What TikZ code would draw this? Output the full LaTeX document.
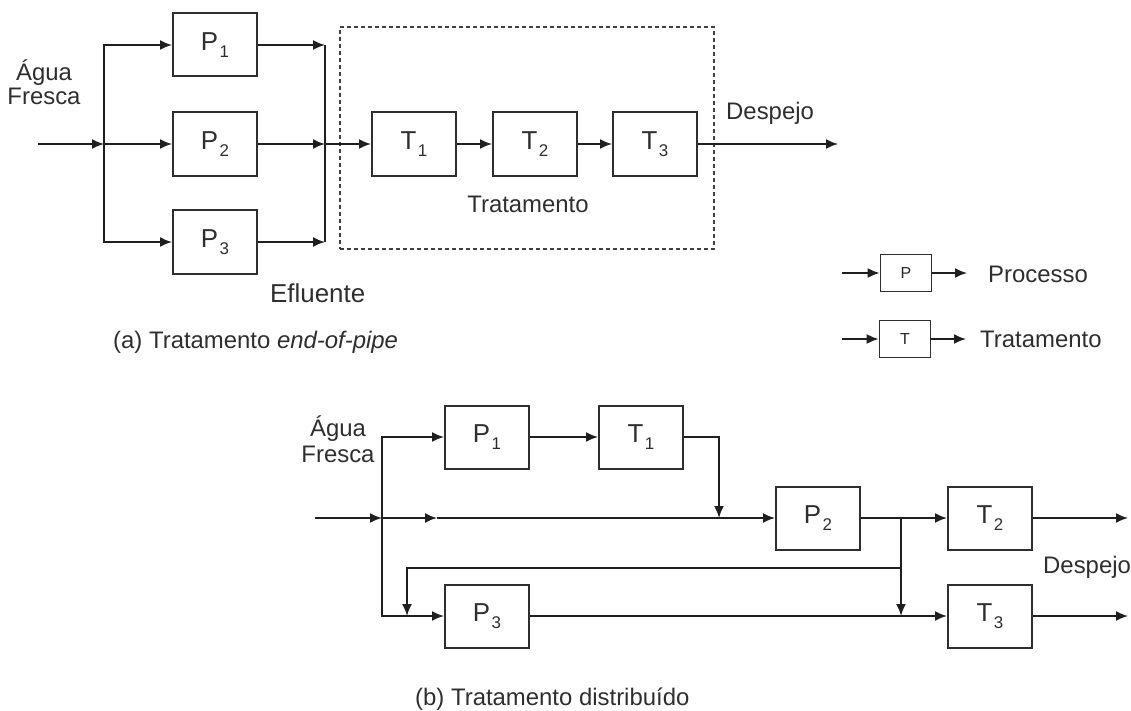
\documentclass[tikz,border=0pt]{standalone}
\usepackage{fontspec}
\setmainfont{Liberation Sans}
\usetikzlibrary{arrows.meta}
\newcommand\lblfont{\fontsize{24}{24.5}\selectfont}
\newcommand\boxlab[2]{#1\kern1.5bp\raisebox{-7bp}{\fontsize{17}{17}\selectfont #2}}
\begin{document}
\begin{tikzpicture}[x=1bp,y=-1bp,
  wire/.style={line width=1.8bp, draw=black!88},
  arr/.style={wire, -{Latex[length=12bp,width=10bp]}},
  unit/.style={draw=black!82, line width=2bp, minimum width=84bp, minimum height=63bp,
    inner sep=0pt, font=\fontsize{26}{26}\selectfont, text=black!82},
  mini/.style={draw=black!82, line width=1.8bp, minimum width=51bp, minimum height=37bp,
    inner sep=0pt, font=\fontsize{16}{16}\selectfont, text=black!85},
  txt/.style={font=\lblfont, text=black!82, inner sep=0pt},
  dashbox/.style={draw=black!75, line width=1.6bp, dash pattern=on 4bp off 3bp,
    minimum width=374bp, minimum height=222bp, inner sep=0pt},
]
\useasboundingbox (0,0) rectangle (1131,711);

% ---------- (a) end-of-pipe treatment ----------
\node[dashbox] (trat) at (527,138) {};
\node[unit] (P1) at (215,45)  {\boxlab{P}{1}};
\node[unit] (P2) at (215,144) {\boxlab{P}{2}};
\node[unit] (P3) at (215,242) {\boxlab{P}{3}};
\node[unit] (T1) at (414,144) {\boxlab{T}{1}};
\node[unit] (T2) at (535,144) {\boxlab{T}{2}};
\node[unit] (T3) at (655,144) {\boxlab{T}{3}};

\coordinate (inA) at (38,144);
\coordinate (jA)  at (104,144);
\coordinate (k1)  at (325,45);
\coordinate (k2)  at (325,144);
\coordinate (k3)  at (325,242);
\coordinate (outA) at (838,144);

\draw[arr] (inA) -- (jA);
\draw[wire] (jA |- P1) -- (jA |- P3);
\draw[arr] (jA) |- (P1.west);
\draw[arr] (jA) -- (P2.west);
\draw[arr] (jA) |- (P3.west);
\draw[arr] (P1.east) -- (k1);
\draw[arr] (P2.east) -- (k2);
\draw[arr] (P3.east) -- (k3);
\draw[wire] (k1) -- (k3);
\draw[arr] (k2) -- (T1.west);
\draw[arr] (T1) -- (T2);
\draw[arr] (T2) -- (T3);
\draw[arr] (T3.east) -- (outA);

\node[txt, align=center, font=\fontsize{24}{25}\selectfont, anchor=base] (aguaA) at (44,105) {Água\\Fresca};
\node[txt, anchor=base west] (despA) at (726,120) {Despejo};
\node[txt, anchor=base] (tratA) at (528,213) {Tratamento};
\node[txt, anchor=base west, font=\fontsize{26}{26}\selectfont] (eflu) at (270,302) {Efluente};
\node[txt, anchor=base west] (capA) at (113,348) {(a) Tratamento \textit{end-of-pipe}};

% ---------- legend ----------
\node[mini] (LP) at (906,273) {P};
\node[mini] (LT) at (905,339) {T};
\coordinate (lp1) at (842,273);
\coordinate (lp2) at (967,273);
\coordinate (lt1) at (842,339);
\coordinate (lt2) at (966,339);
\draw[arr] (lp1) -- (LP.west);
\draw[arr] (LP.east) -- (lp2);
\draw[arr] (lt1) -- (LT.west);
\draw[arr] (LT.east) -- (lt2);
\node[txt, anchor=base west] (legP) at (988,282) {Processo};
\node[txt, anchor=base west] (legT) at (980,347) {Tratamento};

% ---------- (b) distributed treatment ----------
\node[unit] (P1b) at (487,437) {\boxlab{P}{1}};
\node[unit] (T1b) at (641,437) {\boxlab{T}{1}};
\node[unit] (P2b) at (818,518) {\boxlab{P}{2}};
\node[unit] (T2b) at (990,518) {\boxlab{T}{2}};
\node[unit] (P3b) at (487,616) {\boxlab{P}{3}};
\node[unit] (T3b) at (990,616) {\boxlab{T}{3}};

\coordinate (inB) at (315,518);
\coordinate (jB)  at (382,518);
\coordinate (mB)  at (437,518);
\coordinate (dB)  at (719,518);
\coordinate (sB)  at (901,518);
\coordinate (s3)  at (901,616);
\coordinate (rA)  at (901,568);
\coordinate (rC)  at (407,616);
\coordinate (oT2) at (1128,518);
\coordinate (oT3) at (1128,616);

\draw[arr] (inB) -- (jB);
\draw[arr] (jB) -- (mB);
\draw[arr] (mB) -- (P2b.west);
\draw[arr] (jB) |- (P1b.west);
\draw[arr] (jB) |- (P3b.west);
\draw[arr] (P1b) -- (T1b);
\draw[arr] (T1b.east) -| (dB);
\draw[arr] (P2b) -- (T2b);
\draw[arr] (sB) -- (s3);
\draw[arr] (rA) -| (rC);
\draw[arr] (P3b) -- (T3b);
\draw[arr] (T2b) -- (oT2);
\draw[arr] (T3b) -- (oT3);

\node[txt, align=center, font=\fontsize{24}{26}\selectfont, anchor=base] (aguaB) at (338,462) {Água\\Fresca};
\node[txt, anchor=base west] (despB) at (1043,573) {Despejo};
\node[txt, anchor=base west] (capB) at (415,705) {(b) Tratamento distribuído};
\end{tikzpicture}
\end{document}
